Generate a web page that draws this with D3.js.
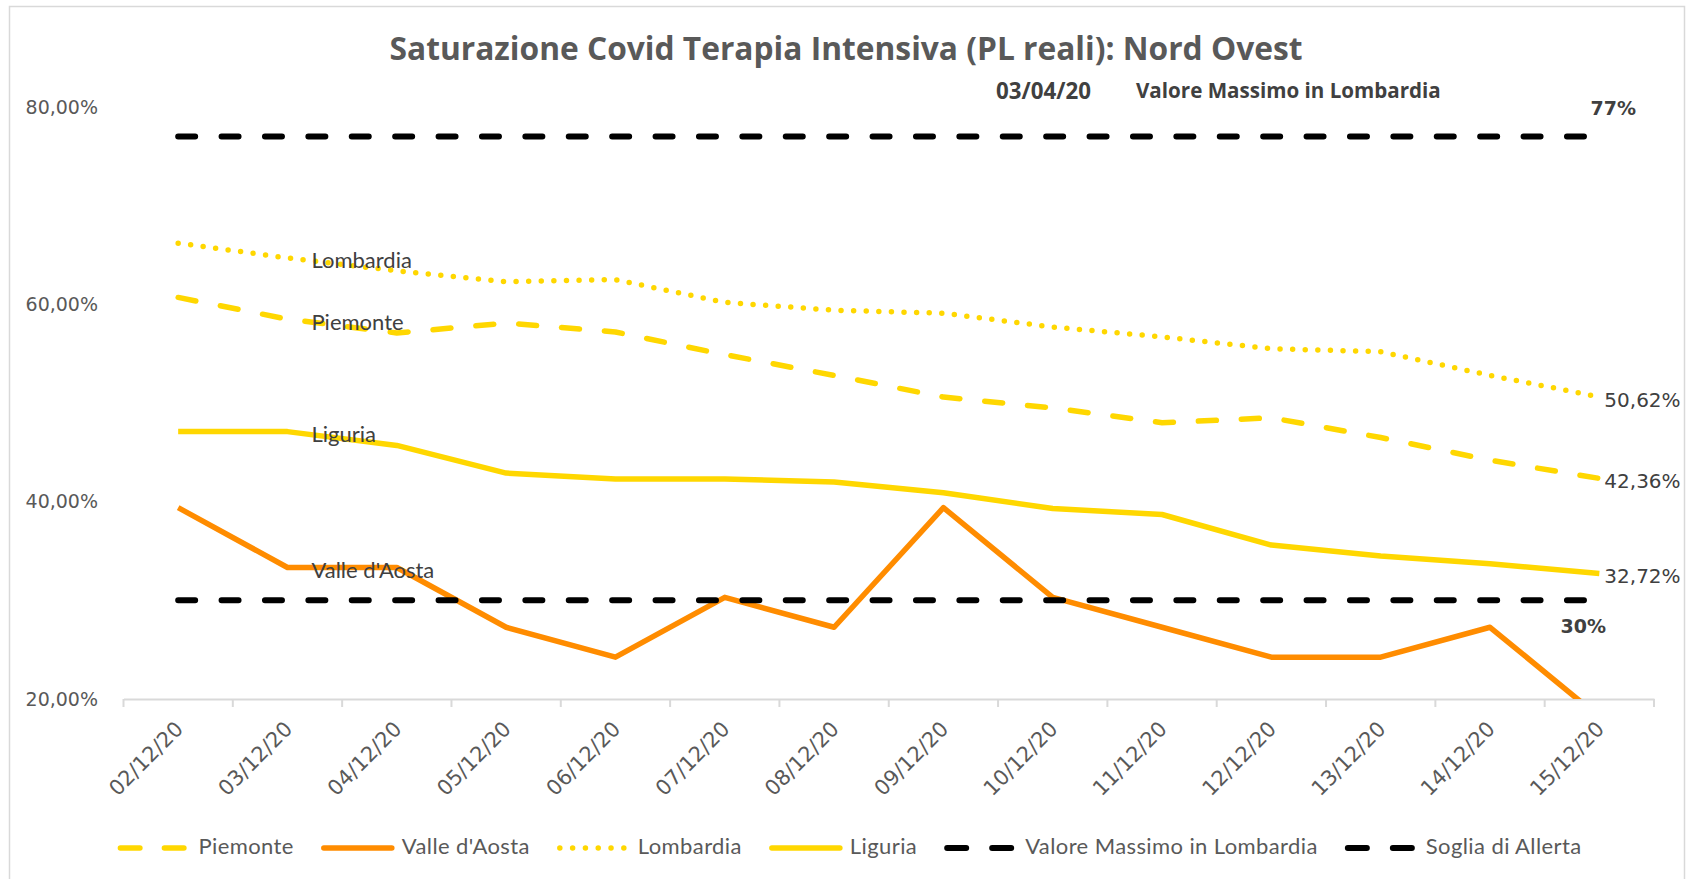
<!DOCTYPE html>
<html>
<head>
<meta charset="utf-8">
<script src="https://cdn.jsdelivr.net/npm/d3@7"></script>
<style>
body{margin:0;background:#fff;}
svg{display:block;}
text{font-family:Lato,"Open Sans",sans-serif;}
.num{font-family:"DejaVu Sans",sans-serif;}
.wide{font-family:"Open Sans",sans-serif;}
</style>
</head>
<body>
<svg></svg>
<script>
//values (percent)
var dates = ["02/12/20","03/12/20","04/12/20","05/12/20","06/12/20","07/12/20","08/12/20",
             "09/12/20","10/12/20","11/12/20","12/12/20","13/12/20","14/12/20","15/12/20"]
var piemonte = [60.7,58.5,57.1,58.1,57.2,54.9,52.8,50.6,49.5,48.0,48.5,46.5,44.2,42.36]
var valleAosta = [39.39,33.33,33.33,27.27,24.24,30.30,27.27,39.39,30.30,27.27,24.24,24.24,27.27,18.18]
var lombardia = [66.2,64.7,63.4,62.3,62.5,60.2,59.4,59.1,57.7,56.7,55.5,55.2,52.8,50.62]
var liguria = [47.1,47.1,45.7,42.9,42.3,42.3,42.0,40.9,39.3,38.7,35.6,34.5,33.7,32.72]
var valoreMassimo = 77
var sogliaAllerta = 30
var yTicks = [20,40,60,80]

var title = "Saturazione Covid Terapia Intensiva (PL reali): Nord Ovest"
var noteDate = "03/04/20"
var noteText = "Valore Massimo in Lombardia"

var comma = function(s){ return s.replace(".",","); }
var pct2 = function(v){ return comma(d3.format(".2f")(v))+"%"; }

var makeTranslateString = function(x,y)
{
    return "translate("+x+","+y+")";
}

//scale the font so the text spans the given width
var fitWidth = function(sel,width)
{
    var fs = +sel.attr("font-size");
    var len = sel.node().getComputedTextLength();
    sel.attr("font-size",fs*width/len);
}

var drawAxes = function(svg,xScale,yScale)
{
    var yAxis = d3.axisLeft(yScale)
        .tickValues(yTicks)
        .tickFormat(pct2)
        .tickSize(0)
        .tickPadding(6);
    var ya = svg.append("g")
        .attr("transform",makeTranslateString(104,0))
        .call(yAxis);
    ya.select(".domain").remove();
    ya.selectAll("text")
        .classed("num",true)
        .attr("font-size",19)
        .attr("fill","#595959");

    var base = yScale(yTicks[0]);
    var xAxis = d3.axisBottom(xScale).tickSize(0).tickSizeOuter(0);
    var xa = svg.append("g")
        .attr("transform",makeTranslateString(0,base))
        .call(xAxis);
    xa.select(".domain")
        .attr("stroke","#d9d9d9")
        .attr("stroke-width",2);
    xa.selectAll("text")
        .classed("num",true)
        .attr("font-size",21)
        .attr("fill","#595959")
        .attr("text-anchor","end")
        .attr("y",0)
        .attr("dy","0.35em")
        .attr("transform","translate(1,26) rotate(-45)");

    //tick marks sit between categories
    var bounds = dates.map(function(d){ return xScale(d); });
    bounds.push(xScale.range()[1]);
    xa.selectAll(".bound")
        .data(bounds)
        .enter()
        .append("line")
        .attr("x1",function(d){ return d; })
        .attr("x2",function(d){ return d; })
        .attr("y1",0)
        .attr("y2",8)
        .attr("stroke","#d9d9d9")
        .attr("stroke-width",2);
}

var drawLines = function(plot,series,xScale,yScale)
{
    var cx = function(i){ return xScale(dates[i])+xScale.bandwidth()/2; };
    var line = d3.line()
        .x(function(d,i){ return cx(i); })
        .y(function(d){ return yScale(d); });

    plot.selectAll(".series")
        .data(series)
        .enter()
        .append("path")
        .attr("d",function(s){ return line(s.values); })
        .attr("fill","none")
        .attr("stroke",function(s){ return s.color; })
        .attr("stroke-width",function(s){ return s.width; })
        .attr("stroke-dasharray",function(s){ return s.dash; })
        .attr("stroke-linecap",function(s){ return s.dash=="none" ? "butt" : "round"; })
        .attr("stroke-linejoin","round");
}

var drawLabels = function(svg,series,refs,xScale,yScale)
{
    var cx = function(i){ return xScale(dates[i])+xScale.bandwidth()/2; };
    var last = dates.length-1;

    var t = svg.append("text")
        .classed("wide",true)
        .text(title)
        .attr("x",846)
        .attr("y",60)
        .attr("text-anchor","middle")
        .attr("font-size",30)
        .attr("font-weight","bold")
        .attr("fill","#595959");
    fitWidth(t,913);

    var n1 = svg.append("text")
        .classed("wide",true)
        .text(noteDate)
        .attr("x",996)
        .attr("y",99)
        .attr("font-size",20)
        .attr("font-weight","bold")
        .attr("fill","#404040");
    fitWidth(n1,95);
    var n2 = svg.append("text")
        .classed("wide",true)
        .text(noteText)
        .attr("x",1136)
        .attr("y",98)
        .attr("font-size",20)
        .attr("font-weight","bold")
        .attr("fill","#404040");
    fitWidth(n2,305);

    //series names next to second point
    svg.selectAll(".sname")
        .data(series)
        .enter()
        .append("text")
        .text(function(s){ return s.name; })
        .attr("x",cx(1)+24)
        .attr("y",function(s){ return yScale(s.values[1])+10.5; })
        .attr("font-size",22)
        .attr("fill","#404040");

    //last values
    svg.selectAll(".sval")
        .data(series.filter(function(s){ return s.endLabel; }))
        .enter()
        .append("text")
        .classed("num",true)
        .text(function(s){ return pct2(s.values[last]); })
        .attr("x",cx(last)+5)
        .attr("y",function(s){ return yScale(s.values[last])+10; })
        .attr("font-size",20)
        .attr("fill","#404040");

    //reference values
    svg.selectAll(".rval")
        .data(refs)
        .enter()
        .append("text")
        .classed("num",true)
        .text(function(r){ return r.value+"%"; })
        .attr("x",function(r){ return cx(last)+r.dx; })
        .attr("y",function(r){ return yScale(r.value)+r.dy; })
        .attr("text-anchor","middle")
        .attr("font-size",19)
        .attr("font-weight","bold")
        .attr("fill","#404040");
}

var drawLegend = function(svg,items)
{
    var legend = svg.append("g").classed("legend",true);
    var sample = 68, gapIn = 10, gapOut = 30;
    var entries = legend.selectAll("g")
        .data(items)
        .enter()
        .append("g");
    entries.append("text")
        .text(function(d){ return d.name; })
        .attr("x",sample+gapIn)
        .attr("y",854)
        .attr("font-size",22)
        .attr("letter-spacing",0.4)
        .attr("fill","#595959");
    var widths = [];
    entries.select("text").each(function(){ widths.push(this.getComputedTextLength()); });
    var total = d3.sum(widths)+items.length*(sample+gapIn)+(items.length-1)*gapOut;
    var x = 851-total/2;
    entries.attr("transform",function(d,i){
        var t = makeTranslateString(x,0);
        x += sample+gapIn+widths[i]+gapOut;
        return t;
    });
    entries.append("line")
        .attr("x1",0)
        .attr("x2",sample)
        .attr("y1",848)
        .attr("y2",848)
        .attr("stroke",function(d){ return d.color; })
        .attr("stroke-width",function(d){ return d.width; })
        .attr("stroke-dasharray",function(d){ return d.legendDash; })
        .attr("stroke-linecap","round");
}

var initGraph = function()
{
    var screen = {width:1690,height:879}
    var svg = d3.select("svg")
        .attr("width",screen.width)
        .attr("height",screen.height);

    svg.append("rect")
        .attr("x",9.5)
        .attr("y",6.5)
        .attr("width",1675)
        .attr("height",880)
        .attr("fill","#fff")
        .attr("stroke","#d9d9d9")
        .attr("stroke-width",1.5);

    var xScale = d3.scaleBand()
        .domain(dates)
        .range([123.5,1654]);
    var yScale = d3.scaleLinear()
        .domain([20,80])
        .range([699,107]);

    var yellow = "#FFD700", orange = "#FF8C00";
    var dashed = "18,25", dotted = "0,12.6", black = "17,26.4";
    var series = [
        {name:"Piemonte",values:piemonte,color:yellow,width:5.5,dash:dashed,legendDash:"19.5,24.5",endLabel:true},
        {name:"Valle d'Aosta",values:valleAosta,color:orange,width:5.5,dash:"none",legendDash:"none",endLabel:false},
        {name:"Lombardia",values:lombardia,color:yellow,width:5.5,dash:dotted,legendDash:"0,12.8",endLabel:true},
        {name:"Liguria",values:liguria,color:yellow,width:5.5,dash:"none",legendDash:"none",endLabel:true}
    ];
    var refs = [
        {name:"Valore Massimo in Lombardia",value:valoreMassimo,dx:14,dy:-22},
        {name:"Soglia di Allerta",value:sogliaAllerta,dx:-16,dy:33}
    ];
    var refSeries = refs.map(function(r){
        return {name:r.name,values:dates.map(function(){ return r.value; }),color:"#000",width:6,dash:black,legendDash:"19,26"};
    });

    svg.append("clipPath")
        .attr("id","plotClip")
        .append("rect")
        .attr("x",0)
        .attr("y",0)
        .attr("width",screen.width)
        .attr("height",yScale(20));

    drawAxes(svg,xScale,yScale);
    var plot = svg.append("g").attr("clip-path","url(#plotClip)");
    drawLines(plot,series.concat(refSeries),xScale,yScale);
    drawLabels(svg,series,refs,xScale,yScale);
    drawLegend(svg,series.concat(refSeries));
}

initGraph();
</script>
</body>
</html>
